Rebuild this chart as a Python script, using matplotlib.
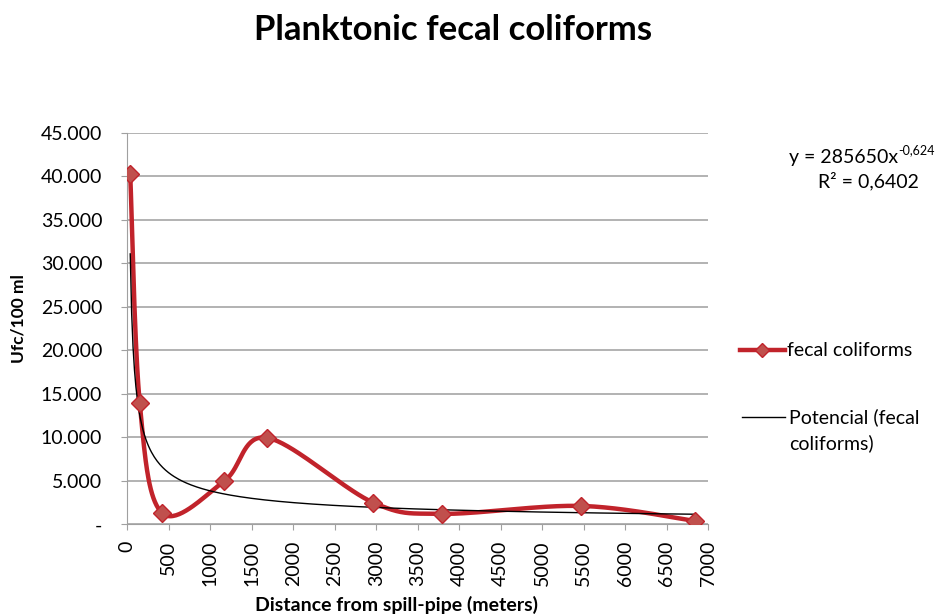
import numpy as np
import matplotlib.pyplot as plt
from matplotlib.lines import Line2D
from matplotlib.ticker import FuncFormatter

plt.rcParams['font.family'] = ['Lato', 'DejaVu Sans']

distance = [35, 150, 422, 1170, 1680, 2965, 3795, 5470, 6840]
coliforms = [40250, 13900, 1270, 4980, 9950, 2490, 1200, 2110, 390]
trend_a = 285650
trend_b = -0.624
xmax = 7000
ymax = 45000

W, H = 939, 616
fig = plt.figure(figsize=(W / 100, H / 100), dpi=100)
ax = fig.add_axes([0.1356, 0.1489, 0.6184, 0.6357])

# excel-like smoothed line (catmull-rom bezier in screen space)
w_px, h_px = 581.0, 392.0
px = np.array(distance) / xmax * w_px
py = np.array(coliforms) / ymax * h_px
P = np.column_stack([px, py])
Pe = np.vstack([P[0], P, P[-1]])
curve = []
t = np.linspace(0, 1, 40)[:, None]
for i in range(len(P) - 1):
    p0, p1, p2, p3 = Pe[i], Pe[i + 1], Pe[i + 2], Pe[i + 3]
    b1 = p1 + (p2 - p0) / 6
    b2 = p2 - (p3 - p1) / 6
    seg = ((1 - t) ** 3) * p1 + 3 * ((1 - t) ** 2) * t * b1 + 3 * (1 - t) * t ** 2 * b2 + t ** 3 * p2
    curve.append(seg)
curve = np.vstack(curve)
cx = curve[:, 0] / w_px * xmax
cy = curve[:, 1] / h_px * ymax

red = '#C1232B'
mred = '#C0504D'
ax.plot(cx, cy, color=red, lw=3.2, zorder=3, solid_capstyle='round')
ax.plot(distance, coliforms, ls='none', marker='D', ms=9, mfc=mred, mec=red, mew=1, zorder=4)

tx = np.linspace(distance[0], distance[-1], 400)
ax.plot(tx, trend_a * tx ** trend_b, color='black', lw=1, zorder=3)

ax.set_xlim(0, xmax)
ax.set_ylim(0, ymax)
ax.set_xticks(np.arange(0, 7001, 500))
ax.set_yticks(np.arange(0, 45001, 5000))
ax.yaxis.set_major_formatter(FuncFormatter(lambda v, p: '-' if v == 0 else f'{int(v):,}'.replace(',', '.')))
ax.tick_params(axis='x', rotation=90, labelsize=14, length=4, color='#A0A0A0', pad=8)
ax.tick_params(axis='y', labelsize=14, length=4, color='#A0A0A0', pad=14)
ax.grid(axis='y', color='#A6A6A6', lw=1.2)
ax.set_axisbelow(True)
for s in ['top', 'right']:
    ax.spines[s].set_visible(False)
for s in ['left', 'bottom']:
    ax.spines[s].set_color('#A0A0A0')

ax.set_xlabel('Distance from spill-pipe (meters)', fontsize=14, fontweight='bold', va='center')
ax.xaxis.set_label_coords((396 - 127) / 581, (524 - 605) / 392)
ax.set_ylabel('Ufc/100 ml', fontsize=12.5, fontweight='bold', va='center')
ax.yaxis.set_label_coords((18 - 127) / 581, (524 - 318) / 392)
fig.text(453 / W, 1 - 30 / H, 'Planktonic fecal coliforms', fontsize=25, fontweight='bold', ha='center', va='center')

# trendline equation
fig.text(898 / W, 1 - 157 / H, 'y = 285650x', fontsize=14, ha='right', va='center')
fig.text(898 / W, 1 - 150 / H, '-0,624', fontsize=9, ha='left', va='center')
fig.text(868 / W, 1 - 181 / H, 'R² = 0,6402', fontsize=14, ha='center', va='center')

# legend
fig.add_artist(Line2D([740 / W, 785 / W], [1 - 350 / H] * 2, color=red, lw=3.2))
fig.add_artist(Line2D([762 / W], [1 - 350 / H], marker='D', ms=7, mfc=mred, mec=red, mew=1))
fig.text(787 / W, 1 - 350 / H, 'fecal coliforms', fontsize=14, ha='left', va='center')
fig.add_artist(Line2D([742 / W, 785 / W], [1 - 417 / H] * 2, color='black', lw=1))
fig.text(789 / W, 1 - 417 / H, 'Potencial (fecal', fontsize=14, ha='left', va='center')
fig.text(789 / W, 1 - 443 / H, 'coliforms)', fontsize=14, ha='left', va='center')

fig.savefig('out.png', dpi=100)
